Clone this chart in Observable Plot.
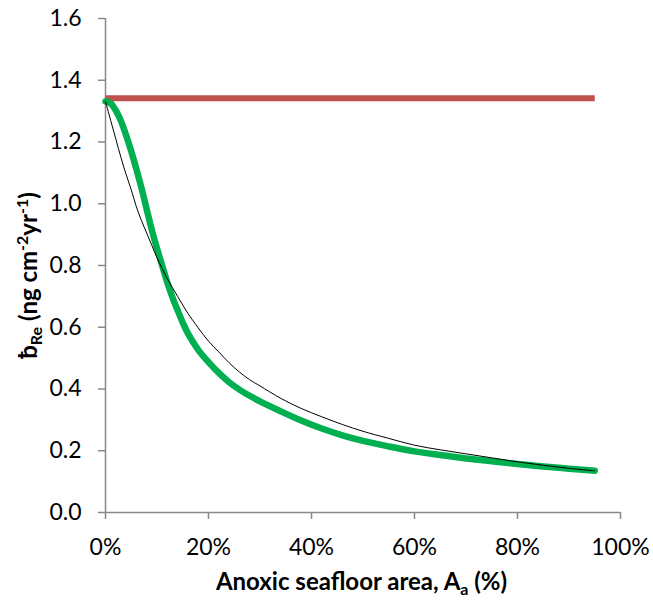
<!DOCTYPE html>
<html>
<head>
<meta charset="utf-8">
<script src="https://cdn.jsdelivr.net/npm/d3@7"></script>
<script src="https://cdn.jsdelivr.net/npm/@observablehq/plot@0.6"></script>
<style>
  html, body { margin: 0; padding: 0; background: #fff; }
  #chart { width: 653px; height: 605px; }
  svg { font-family: Lato, "Open Sans", sans-serif; }
</style>
</head>
<body>
<div id="chart"></div>
<script>
// Anoxic seafloor area (%) sample points
const areaPct = [0, 1, 2, 3, 4, 5, 6, 7, 8, 9, 10, 11, 12, 13, 14, 15, 16, 18, 20, 22, 24, 26, 28, 30, 34, 38, 42, 46, 50, 55, 60, 65, 70, 75, 80, 85, 90, 95];
// Green thick curve
const greenValues = [1.332, 1.325, 1.302, 1.268, 1.222, 1.17, 1.112, 1.05, 0.982, 0.915, 0.855, 0.80, 0.745, 0.697, 0.655, 0.615, 0.58, 0.527, 0.487, 0.452, 0.422, 0.398, 0.378, 0.36, 0.328, 0.298, 0.272, 0.25, 0.232, 0.214, 0.198, 0.186, 0.175, 0.166, 0.157, 0.149, 0.142, 0.135];
// Black thin curve
const blackValues = [1.332, 1.27, 1.21, 1.15, 1.095, 1.045, 0.99, 0.945, 0.905, 0.865, 0.825, 0.79, 0.757, 0.728, 0.70, 0.672, 0.645, 0.598, 0.555, 0.52, 0.485, 0.455, 0.43, 0.41, 0.37, 0.337, 0.31, 0.285, 0.263, 0.24, 0.218, 0.203, 0.19, 0.177, 0.164, 0.153, 0.143, 0.135];
// Red constant line
const redArea = [0, 95];
const redValues = [1.342, 1.342];
// Ticks
const xTicks = [0, 20, 40, 60, 80, 100];
const yTicks = [0, 0.2, 0.4, 0.6, 0.8, 1.0, 1.2, 1.4, 1.6];

const green = areaPct.map((a, i) => ({x: a / 100, y: greenValues[i]}));
const black = areaPct.map((a, i) => ({x: a / 100, y: blackValues[i]}));
const red = redArea.map((a, i) => ({x: a / 100, y: redValues[i]}));
const xTickVals = xTicks.map(d => d / 100);

const axisColor = "#898989";

const plot = Plot.plot({
  width: 653,
  height: 605,
  marginLeft: 105,
  marginRight: 33,
  marginTop: 18,
  marginBottom: 93,
  style: {fontFamily: "Lato, 'Open Sans', sans-serif", fontSize: "23px", color: "#000", background: "#fff"},
  x: {domain: [0, 1]},
  y: {domain: [0, 1.6]},
  marks: [
    Plot.axisX({ticks: xTickVals, tickFormat: () => "", tickSize: 7, stroke: axisColor, strokeWidth: 1.5, label: null, strokeOpacity: 1}),
    Plot.axisY({ticks: yTicks, tickFormat: () => "", tickSize: 7, stroke: axisColor, strokeWidth: 1.5, label: null, strokeOpacity: 1}),
    Plot.text(xTickVals, {x: d => d, frameAnchor: "bottom", dy: 35, lineAnchor: "middle", text: d => Math.round(d * 100) + "%", fontSize: 23, fill: "#000"}),
    Plot.text(yTicks, {y: d => d, frameAnchor: "left", dx: -24, textAnchor: "end", text: d => d.toFixed(1), fontSize: 23, fill: "#000"}),
    Plot.ruleX([0], {stroke: axisColor, strokeWidth: 1.5}),
    Plot.ruleY([0], {stroke: axisColor, strokeWidth: 1.5}),
    Plot.line(red, {x: "x", y: "y", stroke: "#C0504D", strokeWidth: 6, strokeLinecap: "butt"}),
    Plot.line(green, {x: "x", y: "y", stroke: "#00B050", strokeWidth: 6.5, curve: "catmull-rom", strokeLinecap: "round"}),
    Plot.line(black, {x: "x", y: "y", stroke: "#000", strokeWidth: 1, curve: "catmull-rom"})
  ]
});

document.getElementById("chart").appendChild(plot);

// Axis titles with sub/superscripts
const svg = d3.select(plot);
const xl = svg.append("text")
  .attr("y", 590)
  .attr("text-anchor", "start")
  .attr("font-weight", "bold")
  .attr("font-size", 24)
  .attr("fill", "#000");
xl.append("tspan").text("Anoxic seafloor area, A");
xl.append("tspan").attr("font-size", 16).attr("dy", 5).text("a");
xl.append("tspan").attr("dy", -5).text(" (%)");
{
  const w = xl.node().getBBox().width;
  xl.attr("x", 362 - w / 2);
}

const yl = svg.append("text")
  .attr("text-anchor", "start")
  .attr("font-weight", "bold")
  .attr("font-size", 24)
  .attr("fill", "#000");
yl.append("tspan").text("ƀ");
yl.append("tspan").attr("font-size", 16).attr("dy", 5).text("Re");
yl.append("tspan").attr("dy", -5).text(" (ng cm");
yl.append("tspan").attr("font-size", 16).attr("dy", -9).text("-2");
yl.append("tspan").attr("dy", 9).text("yr");
yl.append("tspan").attr("font-size", 16).attr("dy", -9).text("-1");
yl.append("tspan").attr("dy", 9).text(")");
{
  const w = yl.node().getBBox().width;
  yl.attr("x", -w / 2).attr("transform", "translate(37,275) rotate(-90)");
}
</script>
</body>
</html>
